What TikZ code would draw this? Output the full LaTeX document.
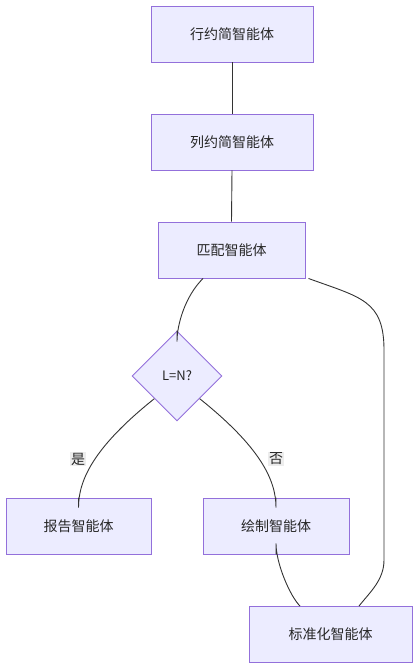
\documentclass[tikz,border=0pt]{standalone}
\usepackage{fontspec}
\setmainfont{Noto Sans CJK SC}
\usetikzlibrary{shapes.geometric}
\definecolor{boxfill}{HTML}{ECECFF}
\definecolor{boxline}{HTML}{9370DB}
\definecolor{edgec}{HTML}{333333}
\definecolor{lblbg}{HTML}{E8E8E8}
\tikzset{
  agent/.style={draw=boxline, fill=boxfill, line width=0.9pt, minimum height=56pt, inner sep=0pt, font=\fontsize{14}{16}\selectfont, text=black!85},
  decide/.style={diamond, draw=boxline, fill=boxfill, line width=0.9pt, minimum width=90pt, minimum height=90pt, inner sep=0pt, font=\fontsize{13}{15}\selectfont, text=black!85},
  link/.style={draw=edgec, line width=0.9pt},
  lbl/.style={fill=lblbg, fill opacity=0.8, text opacity=1, inner sep=1pt, font=\fontsize{14}{16}\selectfont, text=black!85},
}
\begin{document}
\begin{tikzpicture}[x=1pt,y=-1pt]
\useasboundingbox (0,0) rectangle (417,667);
\node[agent, minimum width=162pt] (b1) at (232,34) {行约简智能体};
\node[agent, minimum width=162pt] (b2) at (232,142) {列约简智能体};
\node[agent, minimum width=147pt] (b3) at (231.5,250) {匹配智能体};
\node[decide] (d) at (177,376) {L=N?};
\node[agent, minimum width=145pt] (b4) at (78.5,526) {报告智能体};
\node[agent, minimum width=146pt] (b5) at (276,526) {绘制智能体};
\node[agent, minimum width=163pt] (b6) at (330.5,634.5) {标准化智能体};

\draw[link] (b1.south) -- (b2.north);
\draw[link] (b2.south) -- (b3.north);
\draw[link] ([xshift=-28.5pt]b3.south) .. controls +(-18,18) and +(0,-17) .. ([yshift=-11pt]d.north) -- (d.north);
\draw[link] ([xshift=3pt]b3.south east) .. controls +(52,19) and +(0,-50) .. (384,350) -- (384,560) .. controls +(0,20) and +(11,-14) .. ([xshift=28.5pt]b6.north);
\draw[link] (d.south west) .. controls +(-60,48) and +(0,-28) .. ([yshift=-10pt]b4.north) -- (b4.north);
\draw[link] (d.south east) .. controls +(60,48) and +(0,-28) .. ([yshift=-10pt]b5.north) -- (b5.north);
\draw[link] (b5.south) -- ([yshift=11pt]b5.south) .. controls +(0,20) and +(-10,-10) .. ([xshift=-30.5pt]b6.north);

\node[lbl] (l1) at (78,459) {是};
\node[lbl] (l2) at (276,459) {否};
\end{tikzpicture}
\end{document}
